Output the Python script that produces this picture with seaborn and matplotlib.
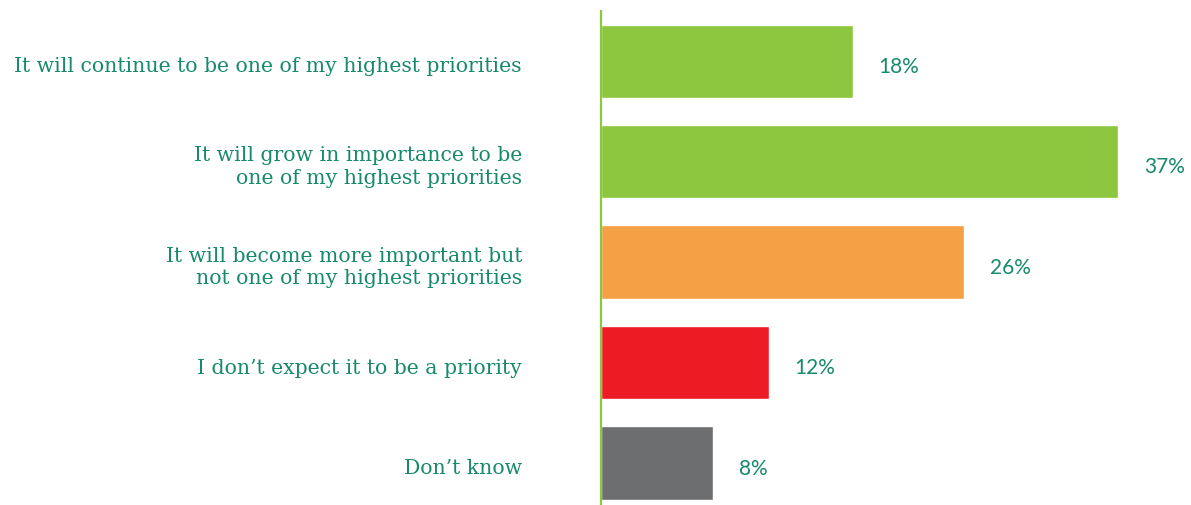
import matplotlib
matplotlib.use("Agg")
import matplotlib.pyplot as plt
import matplotlib.transforms as mtransforms
import seaborn as sns
import pandas as pd

# Survey responses and their shares
categories = [
    "It will continue to be one of my highest priorities",
    "It will grow in importance to be\none of my highest priorities",
    "It will become more important but\nnot one of my highest priorities",
    "I don\u2019t expect it to be a priority",
    "Don\u2019t know",
]
shares = [18, 37, 26, 12, 8]
bar_colors = ["#8dc63f", "#8dc63f", "#f6a045", "#ed1c24", "#6d6e70"]

label_color = "#17896c"

sns.set_theme(style="white")
plt.rcParams["font.family"] = ["DejaVu Serif", "Liberation Serif"]

df = pd.DataFrame({"category": categories, "share": shares})

W, H = 1191, 506
fig = plt.figure(figsize=(W / 100, H / 100), dpi=100)
ax_left = 601 / W
ax_top = 12 / H
ax = fig.add_axes([ax_left, 0, 1 - ax_left, 1 - ax_top])

sns.barplot(data=df, x="share", y="category", hue="category",
            palette=bar_colors, orient="h", width=0.73, legend=False,
            saturation=1, ax=ax)

px_per_unit = (1118 - 601) / 37
ax.set_xlim(0, (W - 601) / px_per_unit)
step = 100.45
ax.set_ylim(-0.5 + (H - 12) / step, -0.5)

# nudge all text slightly below the bar centres
down = mtransforms.ScaledTranslation(0, -4.5 / 100, fig.dpi_scale_trans)

for i, v in enumerate(shares):
    ax.text(v + 26 / px_per_unit, i, f"{v}%", va="center", ha="left",
            color=label_color, fontsize=15, family=["Lato", "DejaVu Sans"],
            transform=ax.transData + down)

# category labels, right-aligned 79 px left of the axis line
label_tr = mtransforms.blended_transform_factory(ax.transAxes, ax.transData)
left_shift = mtransforms.ScaledTranslation(-79 / 100, -4.5 / 100, fig.dpi_scale_trans)
for i, cat in enumerate(categories):
    ax.text(0, i, cat, ha="right", va="center", multialignment="right",
            color=label_color, fontsize=14.7, linespacing=1.25,
            family=["DejaVu Serif", "Liberation Serif"],
            transform=label_tr + left_shift)

ax.set_xlabel("")
ax.set_ylabel("")
ax.set_xticks([])
ax.set_yticks([])

for side in ["top", "right", "bottom"]:
    ax.spines[side].set_visible(False)
ax.spines["left"].set_color("#8dc63f")
ax.spines["left"].set_linewidth(1.6)

fig.savefig("out.png", dpi=100)
